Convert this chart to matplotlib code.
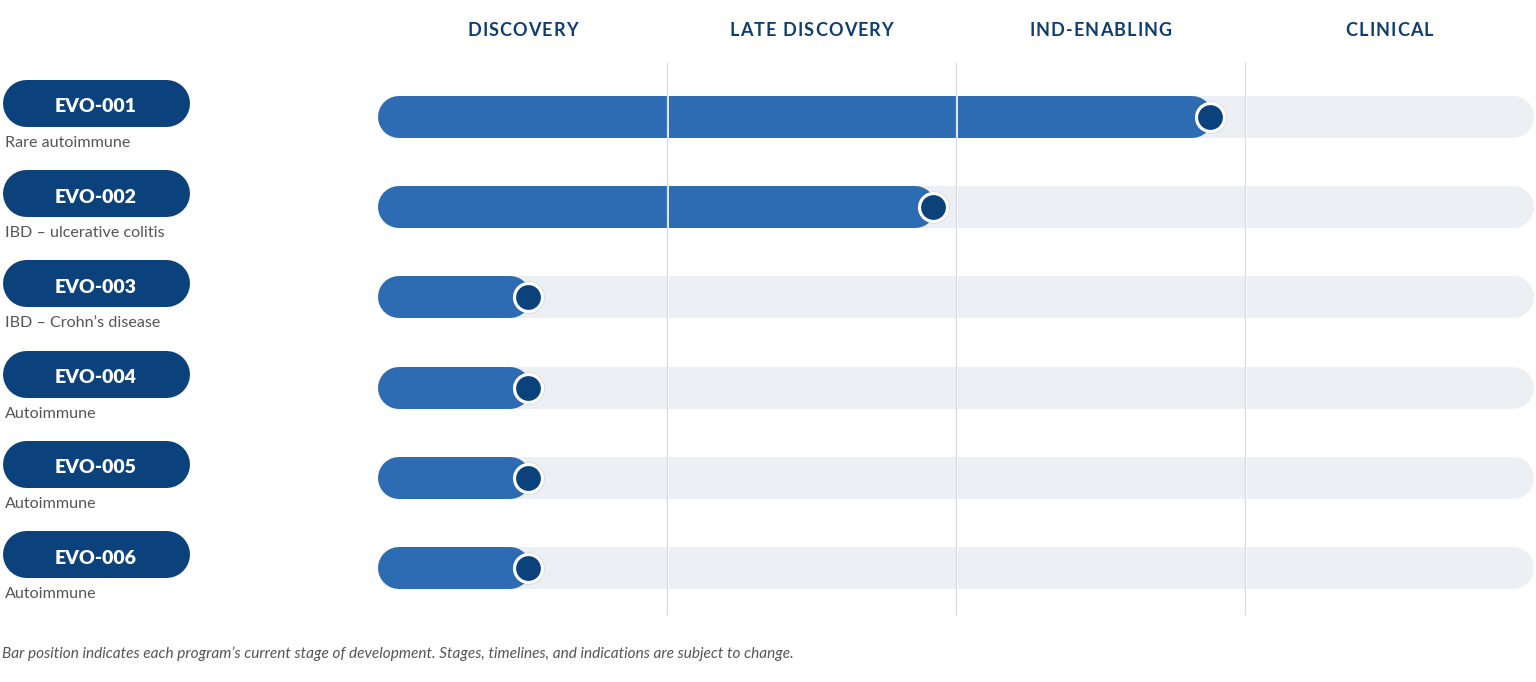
import matplotlib
matplotlib.use("Agg")
import matplotlib.pyplot as plt
from matplotlib.font_manager import FontProperties

stages = ["DISCOVERY", "LATE DISCOVERY", "IND-ENABLING", "CLINICAL"]
programs = ["EVO-001", "EVO-002", "EVO-003", "EVO-004", "EVO-005", "EVO-006"]
indications = ["Rare autoimmune", "IBD \u2013 ulcerative colitis", "IBD \u2013 Crohn\u2019s disease",
               "Autoimmune", "Autoimmune", "Autoimmune"]
# progress measured in stages (0 = start of discovery, 4 = end of clinical)
progress = [2.88, 1.92, 0.52, 0.52, 0.52, 0.52]
footnote = ("Bar position indicates each program\u2019s current stage of development. "
            "Stages, timelines, and indications are subject to change.")

# layout (pixels)
DPI = 100
W, H = 1536, 682
X0 = 378          # pixel x of stage 0
STAGE_PX = 289    # pixels per stage
ROW0 = 117        # pixel y of first row
ROW_PX = 90.2     # pixels between rows

TRACK = "#eceff3"
BLUE = "#2d6cb3"
DARK = "#0b427c"
HEAD = "#0f3d70"
GRID = "#d6dae0"
GREY = "#555555"
FONT = "Lato"

fig = plt.figure(figsize=(W / DPI, H / DPI), dpi=DPI)
ax = fig.add_axes([0, 0, 1, 1])
ax.set_xlim(-X0 / STAGE_PX, (W - X0) / STAGE_PX)
ax.set_ylim((H - ROW0) / ROW_PX, -ROW0 / ROW_PX)
ax.axis("off")


def dx(p):
    # horizontal pixel length -> stage units
    return p / STAGE_PX


def xpx(p):
    # pixel x position -> stage units
    return (p - X0) / STAGE_PX


def ypx(p):
    # pixel y position -> row units
    return (p - ROW0) / ROW_PX


def pt(p):
    return p * 72 / DPI


def spaced_text(xc, y, s, track_px, prop, color):
    renderer = fig.canvas.get_renderer()
    widths = [renderer.get_text_width_height_descent(s[:k], prop, ismath=False)[0]
              for k in range(len(s) + 1)]
    total = widths[-1] + track_px * (len(s) - 1)
    start = -total / 2
    for k, ch in enumerate(s):
        ax.text(xc + dx(start + widths[k] + k * track_px), y, ch, fontproperties=prop,
                color=color, ha="left", va="baseline")


n_st = len(stages)
bar_h = 42
r = dx(bar_h / 2)

# stage headers and dividers
head_prop = FontProperties(family=FONT, weight="bold", size=13)
for j, name in enumerate(stages):
    spaced_text(j + 0.5, ypx(36), name, 1.1, head_prop, HEAD)
dividers = [k for k in range(1, n_st)]
ax.vlines(dividers, ypx(62), ypx(615), color=GRID, lw=pt(1.3), zorder=3)
ax.vlines([d + dx(1.2) for d in dividers], ypx(62), ypx(615), color="white", lw=pt(1.0),
          alpha=0.85, zorder=3)

for i, (prog, ind, val) in enumerate(zip(programs, indications, progress)):
    # track
    ax.plot([r, n_st - r], [i, i], color=TRACK, lw=pt(bar_h), solid_capstyle="round", zorder=1)
    # progress bar
    ax.plot([r, val - dx(18)], [i, i], color=BLUE, lw=pt(bar_h), solid_capstyle="round", zorder=2)
    # marker dot with soft shadow
    ax.plot(val, i, "o", ms=pt(33), color="black", alpha=0.08, mew=0, zorder=4)
    ax.plot(val, i, "o", ms=pt(28), color=DARK, mec="white", mew=pt(3.2), zorder=5)

    # program pill
    pill_y = i - 14 / ROW_PX
    ph = 47
    ax.plot([xpx(2 + ph / 2), xpx(189 - ph / 2)], [pill_y, pill_y], color=DARK, lw=pt(ph),
            solid_capstyle="round", zorder=2)
    ax.text(xpx(95.5), pill_y + 9.5 / ROW_PX, prog, family=FONT, weight="heavy", size=14,
            color="white", ha="center", va="baseline", zorder=3)
    ax.text(xpx(5), i + 30 / ROW_PX, ind, family=FONT, size=11.6, color=GREY,
            ha="left", va="baseline")

ax.text(xpx(2), ypx(658), footnote, family=FONT, style="italic", size=11.1, color=GREY,
        ha="left", va="baseline")

fig.savefig("out.png", dpi=DPI, facecolor="white")
